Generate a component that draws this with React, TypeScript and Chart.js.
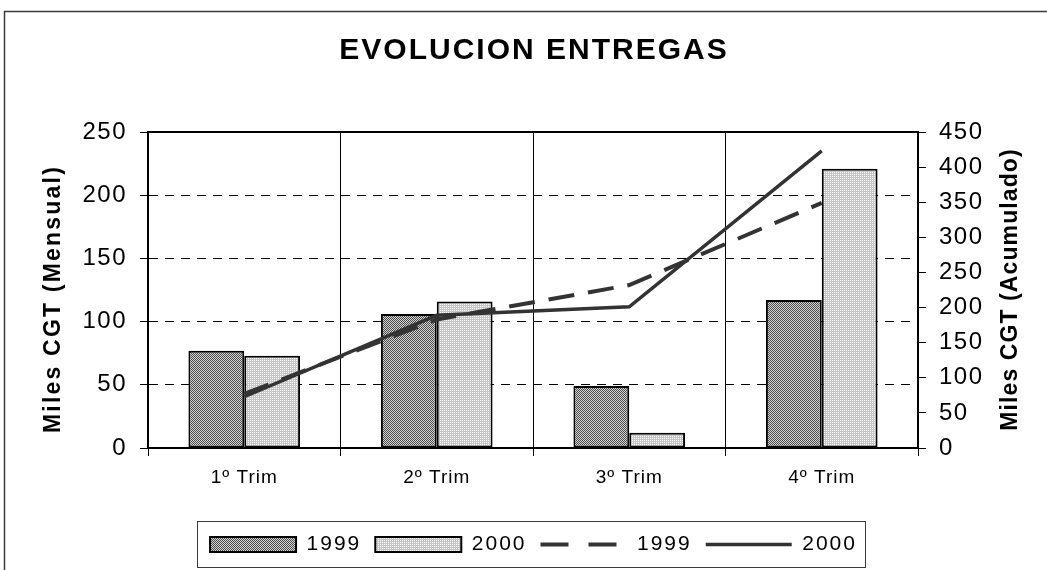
import React, { useEffect, useRef } from 'react';
import { Chart, registerables } from 'chart.js';

Chart.register(...registerables);

const categories = ['1º Trim', '2º Trim', '3º Trim', '4º Trim'];
const mensual1999 = [77, 106, 49, 117];
const mensual2000 = [73, 116, 12, 221];
const acumulado1999 = [77, 183, 232, 349];
const acumulado2000 = [73, 189, 201, 423];
const seriesNames = ['1999', '2000'];
const chartTitle = 'EVOLUCION ENTREGAS';
const leftAxisTitle = 'Miles CGT (Mensual)';
const rightAxisTitle = 'Miles CGT (Acumulado)';

const FONT = '"Liberation Sans", Arial, sans-serif';
const SPACING = '2px';

function makePattern(ctx: CanvasRenderingContext2D, cells: string[][]) {
  const c = document.createElement('canvas');
  c.width = cells[0].length;
  c.height = cells.length;
  const g = c.getContext('2d')!;
  cells.forEach((row, y) =>
    row.forEach((col, x) => {
      g.fillStyle = col;
      g.fillRect(x, y, 1, 1);
    })
  );
  return ctx.createPattern(c, 'repeat')!;
}

// sets the canvas letter spacing right before a scale renders its labels
const spacedBlack = (sp: string) => (c: any) => {
  if (c && c.chart && c.chart.ctx) c.chart.ctx.letterSpacing = sp;
  return '#000';
};

const spacingPlugin = {
  id: 'spacing',
  beforeUpdate(chart: any) {
    chart.ctx.letterSpacing = SPACING;
  },
  beforeLayout(chart: any) {
    chart.ctx.letterSpacing = SPACING;
  },
  beforeDraw(chart: any) {
    chart.ctx.letterSpacing = SPACING;
  },
};

const decorPlugin = {
  id: 'decor',
  afterDraw(chart: any) {
    const ctx: CanvasRenderingContext2D = chart.ctx;
    const a = chart.chartArea;
    ctx.save();
    ctx.setLineDash([]);
    // outer frame
    ctx.strokeStyle = '#3a3a3a';
    ctx.lineWidth = 1.5;
    ctx.strokeRect(4.5, 11.5, 1300, 900);
    // plot top border
    ctx.strokeStyle = '#000';
    ctx.lineWidth = 2;
    ctx.beginPath();
    ctx.moveTo(a.left - 1, a.top);
    ctx.lineTo(a.right + 1, a.top);
    ctx.stroke();
    // legend frame
    const hb = chart.legend && chart.legend.legendHitBoxes;
    if (hb && hb.length) {
      const first = hb[0];
      const last = hb[hb.length - 1];
      const left = first.left - 13;
      const right = last.left + last.width + 8;
      const top = first.top - 13;
      ctx.strokeStyle = '#3a3a3a';
      ctx.lineWidth = 1;
      ctx.strokeRect(Math.round(left) + 0.5, Math.round(top) + 0.5, Math.round(right - left), 46);
    }
    // titles
    ctx.fillStyle = '#000';
    ctx.textAlign = 'center';
    ctx.textBaseline = 'middle';
    (ctx as any).letterSpacing = '2px';
    ctx.font = `bold 30px ${FONT}`;
    ctx.fillText(chartTitle, (a.left + a.right) / 2 + 1, 51);
    ctx.font = `bold 23px ${FONT}`;
    (ctx as any).letterSpacing = '2.2px';
    ctx.save();
    ctx.translate(54, 300);
    ctx.rotate(-Math.PI / 2);
    ctx.fillText(leftAxisTitle, 1, 0);
    ctx.restore();
    (ctx as any).letterSpacing = '1.1px';
    ctx.save();
    ctx.translate(1011, (a.top + a.bottom) / 2);
    ctx.rotate(-Math.PI / 2);
    ctx.fillText(rightAxisTitle, 0.5, 0);
    ctx.restore();
    ctx.restore();
    (ctx as any).letterSpacing = SPACING;
  },
};

export default function App() {
  const canvasRef = useRef<HTMLCanvasElement | null>(null);

  useEffect(() => {
    const canvas = canvasRef.current!;
    const ctx = canvas.getContext('2d')!;
    (ctx as any).letterSpacing = SPACING;
    const D = '#4a4a4a';
    const L = '#d6d6d6';
    const pat1999 = makePattern(ctx, [
      [D, L],
      [L, D],
    ]);
    const W = '#ffffff';
    const G = '#c6c6c6';
    const pat2000 = makePattern(ctx, [
      [W, G],
      [G, G],
    ]);

    const tickFont = { family: FONT, size: 24 };

    const chart = new Chart(canvas, {
      type: 'bar',
      data: {
        labels: categories,
        datasets: [
          {
            type: 'bar',
            label: seriesNames[0],
            data: mensual1999,
            backgroundColor: pat1999,
            borderColor: '#000',
            borderWidth: 2,
            borderSkipped: false,
            yAxisID: 'y',
            order: 2,
            categoryPercentage: 0.58,
            barPercentage: 1,
          } as any,
          {
            type: 'bar',
            label: seriesNames[1],
            data: mensual2000,
            backgroundColor: pat2000,
            borderColor: '#000',
            borderWidth: 2,
            borderSkipped: false,
            yAxisID: 'y',
            order: 2,
            categoryPercentage: 0.58,
            barPercentage: 1,
          } as any,
          {
            type: 'line',
            label: seriesNames[0],
            data: acumulado1999,
            borderColor: '#333333',
            backgroundColor: '#333333',
            borderWidth: 4,
            borderDash: [26, 14],
            pointRadius: 0,
            fill: false,
            tension: 0,
            yAxisID: 'y1',
            order: 1,
          } as any,
          {
            type: 'line',
            label: seriesNames[1],
            data: acumulado2000,
            borderColor: '#333333',
            backgroundColor: '#333333',
            borderWidth: 3.5,
            pointRadius: 0,
            fill: false,
            tension: 0,
            yAxisID: 'y1',
            order: 0,
          } as any,
        ],
      },
      options: {
        animation: false,
        responsive: true,
        maintainAspectRatio: false,
        layout: { padding: { top: 132, left: 20, right: 0, bottom: 5 } },
        plugins: {
          title: { display: false },
          tooltip: { enabled: false },
          legend: {
            position: 'bottom',
            labels: {
              usePointStyle: true,
              pointStyleWidth: 86,
              boxWidth: 86,
              boxHeight: 15,
              padding: 14,
              color: '#000',
              font: { family: FONT, size: 21 },
              sort: (a: any, b: any) => a.datasetIndex - b.datasetIndex,
              generateLabels: (c: any) => {
                const items = (Chart.defaults.plugins.legend.labels as any).generateLabels(c);
                items.forEach((it: any) => {
                  const ds = c.data.datasets[it.datasetIndex];
                  if (ds.type === 'line') {
                    it.pointStyle = 'line';
                    it.lineWidth = ds.borderWidth;
                    it.strokeStyle = ds.borderColor;
                    it.lineDash = ds.borderDash ? [28, 20] : [];
                    it.lineCap = 'butt';
                  } else {
                    it.pointStyle = 'rect';
                  }
                });
                return items;
              },
            },
          },
        },
        scales: {
          x: {
            type: 'category',
            offset: true,
            grid: { offset: true, color: '#000', lineWidth: 1, tickLength: 8, tickColor: '#000', tickWidth: 1 },
            border: { color: '#000', width: 2 },
            ticks: { color: spacedBlack('1px'), font: { family: FONT, size: 19 }, padding: 10, maxRotation: 0 },
            afterFit: (s: any) => {
              s.height = 72;
            },
          },
          y: {
            position: 'left',
            min: 0,
            max: 250,
            ticks: { stepSize: 50, color: spacedBlack('1.5px'), font: tickFont, padding: 13 },
            grid: {
              color: (c: any) => (c.tick && (c.tick.value === 0 || c.tick.value === 250) ? 'rgba(0,0,0,0)' : '#000'),
              lineWidth: 1,
              tickLength: 8,
              tickColor: '#000',
              tickWidth: 1,
            },
            border: { color: '#000', width: 2, dash: [9, 7] },
            afterFit: (s: any) => {
              s.width = 128;
            },
          },
          y1: {
            position: 'right',
            min: 0,
            max: 450,
            ticks: { stepSize: 50, color: spacedBlack('1.5px'), font: tickFont, padding: 13 },
            grid: { drawOnChartArea: false, tickLength: 8, tickColor: '#000', tickWidth: 1 },
            border: { color: '#000', width: 2 },
            afterFit: (s: any) => {
              s.width = 129;
            },
          },
        },
      } as any,
      plugins: [spacingPlugin, decorPlugin],
    });
    return () => chart.destroy();
  }, []);

  return (
    <div style={{ position: 'absolute', left: 0, top: 0, width: 1047, height: 570, background: '#fff' }}>
      <canvas ref={canvasRef} />
    </div>
  );
}
